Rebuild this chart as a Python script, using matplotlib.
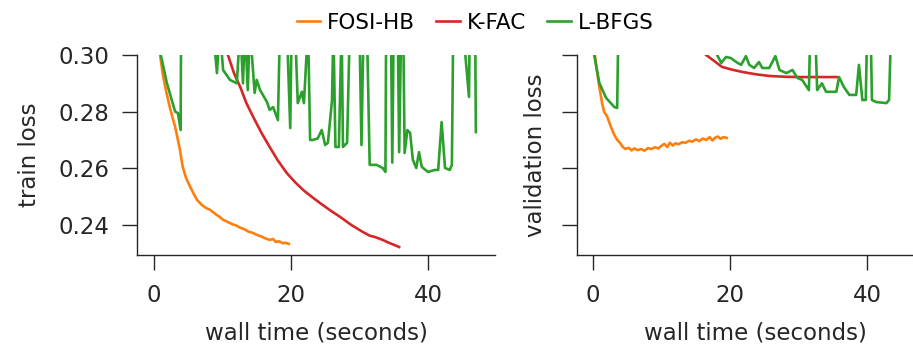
import matplotlib
matplotlib.use("Agg")
import matplotlib.pyplot as plt

# ---------------- data ----------------
fosi_train_t = [0.0, 0.5, 0.9, 1.3, 1.8, 2.3, 2.7, 3.1, 3.5, 3.8, 4.2, 4.7, 5.3, 5.8, 6.3, 7.0, 7.6, 8.2,
                9.0, 9.6, 10.1, 10.8, 11.5, 12.0, 12.6, 13.2, 13.8, 14.4, 15.0, 15.6, 16.2, 16.9, 17.4,
                17.8, 18.3, 18.8, 19.2, 19.7]
fosi_train_v = [0.325, 0.31, 0.300, 0.293, 0.287, 0.2817, 0.2780, 0.2746, 0.2700, 0.2665, 0.2605, 0.2565,
                0.2534, 0.2510, 0.2488, 0.2470, 0.2460, 0.2453, 0.2438, 0.2428, 0.2418, 0.2410, 0.2402,
                0.2398, 0.2390, 0.2385, 0.2376, 0.2372, 0.2365, 0.2360, 0.2353, 0.2347, 0.2350, 0.2340,
                0.2342, 0.2335, 0.2337, 0.2333]

kfac_train_t = [9.0, 10.0, 10.8, 11.7, 12.6, 13.5, 14.5, 15.7, 16.9, 18.1, 19.4, 20.6, 21.8, 23.0, 24.2,
                25.7, 27.2, 28.8, 30.5, 31.5, 32.3, 33.4, 34.2, 35.0, 35.8]
kfac_train_v = [0.312, 0.305, 0.300, 0.2935, 0.2887, 0.2830, 0.2781, 0.2725, 0.2675, 0.2627, 0.2583,
                0.2551, 0.2523, 0.2500, 0.2478, 0.2452, 0.2428, 0.2400, 0.2375, 0.2362, 0.2357, 0.2347,
                0.2338, 0.2330, 0.2322]

lbfgs_train_t = [0.3, 1.0, 1.9, 2.6, 3.1, 3.5, 3.9, 4.0, 6.0, 8.6, 9.2, 9.6, 10.1, 11.1, 12.1, 12.6, 13.0,
                 13.3, 13.7, 14.0, 14.7, 15.0, 15.5, 16.5, 16.9, 17.4, 18.1, 18.4, 19.4, 19.9, 20.1, 20.6,
                 21.0, 21.6, 21.9, 22.5, 22.8, 23.2, 23.9, 24.5, 25.0, 25.4, 26.0, 26.2, 26.5, 27.0, 27.4,
                 27.6, 28.2, 28.6, 30.0, 30.3, 30.6, 31.1, 31.5, 32.5, 33.4, 33.8, 33.9, 34.6, 34.8, 35.0,
                 35.6, 35.8, 36.1, 36.4, 36.6, 37.0, 37.4, 37.8, 38.3, 38.7, 39.1, 40.0, 41.0, 41.5, 42.0,
                 42.5, 43.2, 43.5, 43.7, 45.1, 46.0, 46.1, 46.9, 47.0]
lbfgs_train_v = [0.33, 0.300, 0.290, 0.2841, 0.2800, 0.2795, 0.2735, 0.33, 0.34, 0.31, 0.2936, 0.31,
                 0.2947, 0.2912, 0.2900, 0.31, 0.2900, 0.31, 0.2876, 0.31, 0.2866, 0.2912, 0.2876, 0.2834,
                 0.2806, 0.2816, 0.2770, 0.31, 0.31, 0.2742, 0.31, 0.31, 0.2830, 0.2870, 0.2830, 0.31,
                 0.2700, 0.2700, 0.2705, 0.2735, 0.2682, 0.2690, 0.2840, 0.31, 0.2675, 0.2675, 0.31,
                 0.2675, 0.2690, 0.31, 0.31, 0.2682, 0.31, 0.31, 0.2612, 0.2612, 0.2601, 0.2587, 0.31,
                 0.31, 0.2620, 0.31, 0.31, 0.2657, 0.31, 0.31, 0.2654, 0.2735, 0.2725, 0.2630, 0.2601,
                 0.2657, 0.2605, 0.2587, 0.2594, 0.2594, 0.2763, 0.2601, 0.2594, 0.2612, 0.31, 0.31,
                 0.2852, 0.31, 0.31, 0.2728]

fosi_val_t = [0.0, 0.5, 0.9, 1.3, 1.6, 2.0, 2.3, 2.6, 3.0, 3.5, 3.9, 4.3, 4.7, 5.2, 5.6, 6.0, 6.5, 7.0,
              7.5, 8.0, 8.5, 9.0, 9.5, 10.0, 10.4, 10.8, 11.2, 11.6, 12.0, 12.5, 13.0, 13.5, 14.0, 14.5,
              15.0, 15.5, 16.0, 16.5, 17.0, 17.4, 17.8, 18.2, 18.6, 19.0, 19.5]
fosi_val_v = [0.305, 0.295, 0.2887, 0.2830, 0.2799, 0.2785, 0.2765, 0.2746, 0.2722, 0.2700, 0.2690,
              0.2676, 0.2668, 0.2672, 0.2663, 0.2670, 0.2664, 0.2668, 0.2662, 0.2671, 0.2668, 0.2674,
              0.2670, 0.2680, 0.2686, 0.2675, 0.2690, 0.2680, 0.2688, 0.2685, 0.2692, 0.2690, 0.2697,
              0.2694, 0.2702, 0.2696, 0.2705, 0.2700, 0.2710, 0.2698, 0.2708, 0.2712, 0.2704, 0.2710,
              0.2707]

kfac_val_t = [12.0, 14.5, 16.5, 18.8, 20.3, 21.8, 23.7, 25.7, 28.0, 30.5, 33.0, 35.6]
kfac_val_v = [0.312, 0.3045, 0.300, 0.2958, 0.2948, 0.2940, 0.2932, 0.2926, 0.2923, 0.2922, 0.2922, 0.2922]

lbfgs_val_t = [0.0, 0.15, 0.9, 1.9, 3.1, 3.5, 3.8, 10.0, 17.5, 18.1, 18.7, 19.4, 20.1, 20.9, 21.6, 22.3,
               22.8, 23.5, 24.2, 24.7, 25.7, 26.6, 27.2, 28.2, 29.1, 29.8, 30.5, 31.5, 31.7, 32.4, 32.7,
               33.4, 34.0, 35.5, 35.9, 36.6, 37.4, 38.4, 38.8, 39.3, 39.8, 40.0, 40.5, 40.7, 41.3, 42.8,
               43.2, 43.5]
lbfgs_val_v = [0.32, 0.300, 0.2901, 0.2848, 0.2816, 0.2813, 0.33, 0.34, 0.31, 0.300, 0.2972, 0.2993,
               0.2989, 0.2975, 0.2965, 0.2996, 0.2965, 0.2954, 0.2975, 0.2954, 0.2954, 0.2996, 0.2947,
               0.2936, 0.2947, 0.2919, 0.2912, 0.2876, 0.31, 0.31, 0.2876, 0.2900, 0.2870, 0.2870,
               0.2922, 0.2887, 0.2859, 0.2859, 0.2965, 0.2841, 0.2841, 0.31, 0.31, 0.2841, 0.2834,
               0.2830, 0.2841, 0.31]

methods = ["FOSI-HB", "K-FAC", "L-BFGS"]
colors = ["#ff7f0e", "#d62728", "#2ca02c"]
yticks = [0.24, 0.26, 0.28, 0.30]
xticks = [0, 20, 40]

# ---------------- figure ----------------
FS = 16.5
fig = plt.figure(figsize=(9.13, 3.46), dpi=100)
axL = fig.add_axes([0.1506, 0.2616, 0.3916, 0.5795])
axR = fig.add_axes([0.6317, 0.2616, 0.3916, 0.5795], sharey=axL)

train = [(fosi_train_t, fosi_train_v), (kfac_train_t, kfac_train_v), (lbfgs_train_t, lbfgs_train_v)]
val = [(fosi_val_t, fosi_val_v), (kfac_val_t, kfac_val_v), (lbfgs_val_t, lbfgs_val_v)]

handles = []
for (t, v), c, m in zip(train, colors, methods):
    h, = axL.plot(t, v, color=c, lw=1.9, label=m)
    handles.append(h)
for (t, v), c in zip(val, colors):
    axR.plot(t, v, color=c, lw=1.9)

dark = "0.15"
for ax in (axL, axR):
    ax.set_xlim(-2.4, 49.8)
    ax.set_ylim(0.2292, 0.300)
    ax.set_xticks(xticks)
    ax.set_yticks(yticks)
    for s in ("top", "right"):
        ax.spines[s].set_visible(False)
    for s in ("left", "bottom"):
        ax.spines[s].set_color(dark)
        ax.spines[s].set_linewidth(1.0)
    ax.tick_params(axis="both", length=10.5, width=1.0, color=dark, labelcolor=dark,
                   labelsize=FS, pad=10)
    ax.set_xlabel("wall time (seconds)", fontsize=FS, color=dark, labelpad=10.5)

axL.yaxis.set_major_formatter(matplotlib.ticker.FormatStrFormatter("%.2f"))
axR.tick_params(axis="y", labelleft=False)
axL.set_ylabel("train loss", fontsize=FS, color=dark, labelpad=12)
axR.set_ylabel("validation loss", fontsize=FS, color=dark, labelpad=11)

fig.legend(handles=handles, labels=methods, loc="center", bbox_to_anchor=(475 / 913, 0.934),
           ncol=3, frameon=False, fontsize=15.5, handlelength=1.1, handletextpad=0.3,
           columnspacing=1.0)

fig.savefig("out.png", dpi=100)
